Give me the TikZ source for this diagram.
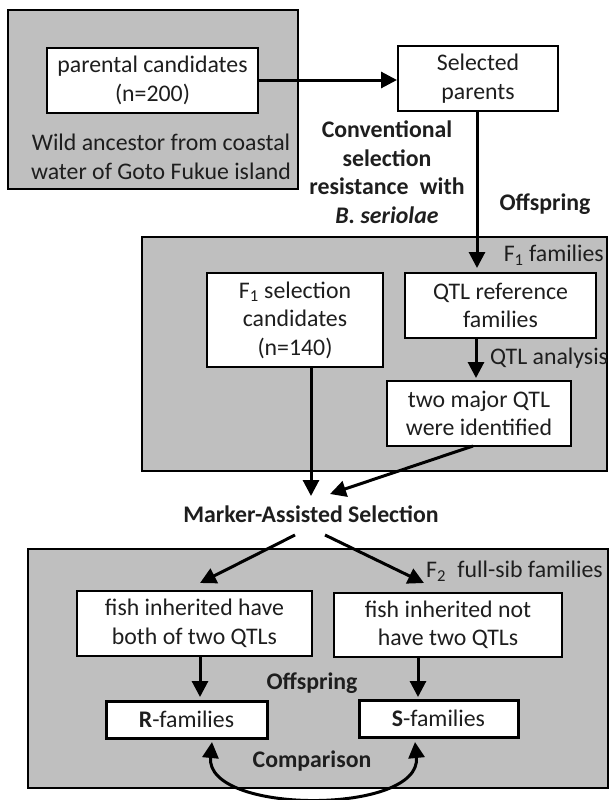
\documentclass[tikz,border=0pt]{standalone}
\usepackage{fontspec}
\setmainfont{Carlito}
\usetikzlibrary{arrows.meta}
\definecolor{boxgray}{RGB}{191,191,191}
\definecolor{txt}{RGB}{30,30,30}
\begin{document}
\begin{tikzpicture}[x=1pt,y=-1pt,
  every node/.style={font=\fontsize{23.8}{28.5}\selectfont, inner sep=0pt, align=center, text=txt},
  graybox/.style={draw, fill=boxgray, line width=2.4pt},
  whitebox/.style={draw, fill=white, line width=2pt},
  resbox/.style={draw, fill=white, line width=3pt},
  lbl/.style={},
  bl/.style={font=\fontsize{23.8}{28.5}\selectfont\bfseries},
  conn/.style={line width=3pt, -{Triangle[length=16pt,width=16pt]}},
  cmp/.style={line width=3pt, {Triangle[length=16pt,width=16pt]}-{Triangle[length=16pt,width=16pt]}}
]
\useasboundingbox (0,0) rectangle (610,800);
% background panels
\node[graybox, minimum width=290pt, minimum height=179pt] (topbg) at (153,99.5) {};
\node[graybox, minimum width=465pt, minimum height=234pt] (midbg) at (374.5,354) {};
\node[graybox, minimum width=580pt, minimum height=239pt] (botbg) at (318,668.5) {};
% top
\node[whitebox, minimum width=211pt, minimum height=65pt] (parental) at (152.5,80.5) {parental candidates\\(n=200)};
\node[lbl] (wild) at (161,157) {Wild ancestor from coastal\\water of Goto Fukue island};
\node[whitebox, minimum width=160pt, minimum height=65pt] (selected) at (478,78.5) {Selected\\parents};
\node[bl] (conv) at (387,172) {Conventional\\selection\\resistance\hspace{0.25em} with\\\textit{B. seriolae}};
\node[bl] (off1) at (545,204) {Offspring};
% middle
\node[lbl, anchor=east] (f1fam) at (604,255) {F\textsubscript{1} families};
\node[whitebox, minimum width=176pt, minimum height=94pt] (f1sel) at (295,320) {F\textsubscript{1} selection\\candidates\\(n=140)};
\node[whitebox, minimum width=191pt, minimum height=65pt] (qtlref) at (500.5,305.5) {QTL reference\\families};
\node[whitebox, minimum width=184pt, minimum height=65pt] (qtl2) at (479,413.5) {two major QTL\\were identified};
\node[lbl, anchor=west] (qtlan) at (490,358) {QTL analysis};
% MAS
\node[bl] (mas) at (311,514) {Marker-Assisted Selection};
% bottom
\node[lbl, anchor=east] (f2fam) at (603,571) {F\textsubscript{2}\hspace{0.25em} full-sib families};
\node[whitebox, minimum width=235pt, minimum height=65pt] (lbox) at (194.5,623.5) {fish inherited have\\both of two QTLs};
\node[whitebox, minimum width=228pt, minimum height=64pt] (rbox) at (448,625) {fish inherited not\\have two QTLs};
\node[resbox, minimum width=161pt, minimum height=37pt] (rfam) at (186.5,719.5) {\textbf{R}-families};
\node[resbox, minimum width=159pt, minimum height=37pt] (sfam) at (438.5,718.5) {\textbf{S}-families};
\node[bl] (off2) at (312,683) {Offspring};
\node[bl] (comp) at (312,761) {Comparison};
% coordinates
\coordinate (m1) at (311,496);
\coordinate (m2) at (330,494);
\coordinate (ms1) at (295,535);
\coordinate (ml) at (200,583);
\coordinate (ms2) at (325,535);
\coordinate (mr) at (424,583);
\coordinate (rl) at (200,697);
\coordinate (rr) at (418,697);
\coordinate (q2) at (476,378);
\coordinate (s1) at (477,268);
% connectors
\draw[conn] (parental.east |- 0,80) -- (selected.west |- 0,80);
\draw[conn] (s1 |- selected.south) -- (s1);
\draw[conn] (q2 |- qtlref.south) -- (q2);
\draw[conn] (m1 |- f1sel.south) -- (m1);
\draw[conn] (473,446) -- (m2);
\draw[conn] (ms1) -- (ml);
\draw[conn] (ms2) -- (mr);
\draw[conn] (rl |- lbox.south) -- (rl);
\draw[conn] (rr |- rbox.south) -- (rr);
\draw[cmp] (212,742) .. controls (205,815) and (422,815) .. (415,742);
\end{tikzpicture}
\end{document}
